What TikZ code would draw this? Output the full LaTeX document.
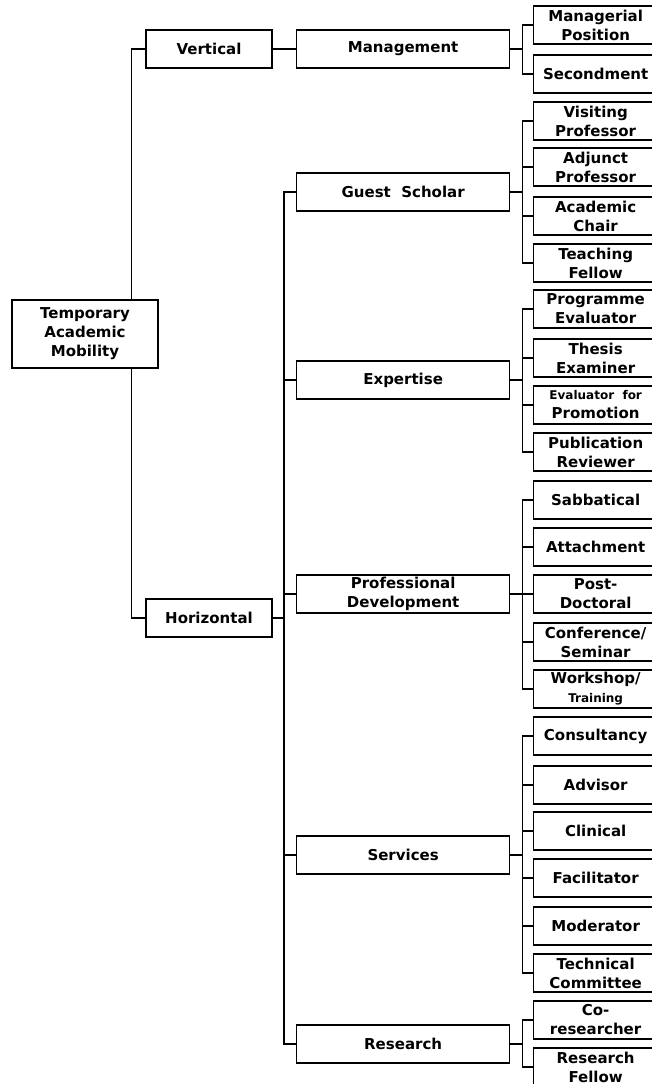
\documentclass[tikz,border=0pt]{standalone}
\usepackage{fontspec}
\setmainfont{DejaVu Sans}
\usetikzlibrary{positioning}
\usetikzlibrary{backgrounds}

\tikzset{
  box/.style={draw,line width=1.3pt,fill=white,inner xsep=1pt,inner ysep=0pt,align=center,
    font=\bfseries\fontsize{15}{19}\selectfont},
  midbox/.style={box,anchor=west,minimum width=213pt,minimum height=38pt},
  leafbox/.style={box,anchor=west,minimum width=124pt,minimum height=38pt},
  link/.style={line width=1.3pt}
}

\begin{document}
\begin{tikzpicture}[x=1pt,y=-1pt]
  \useasboundingbox (0,0) rectangle (652,1084);
  \node[box,minimum width=146pt,minimum height=68pt] (tam) at (85,334) {Temporary\\Academic\\Mobility};
  \node[box,minimum width=126pt,minimum height=38pt] (vert) at (209,49) {Vertical};
  \node[box,minimum width=126pt,minimum height=38pt] (horiz) at (209,618) {Horizontal};
  \node[midbox] (mgmt) at (296,49) {Management};
  \node[midbox] (gs) at (296,192) {Guest\ \ Scholar};
  \node[midbox] (exp) at (296,380) {Expertise};
  \node[midbox] (pdev) at (296,594) {Professional\\Development};
  \node[midbox] (serv) at (296,855) {Services};
  \node[midbox] (res) at (296,1044) {Research};
  \foreach \n/\y/\t in {mp/25/{Managerial\\Position},sec/74/{Secondment},
    vp/121/{Visiting\\Professor},ap/167/{Adjunct\\Professor},
    ac/216/{Academic\\Chair},tf/263/{Teaching\\Fellow},
    pe/309/{Programme\\Evaluator},te/358/{Thesis\\Examiner},
    ep/405/{\fontsize{12}{17}\selectfont Evaluator\ \ for\\Promotion},
    pr/452/{Publication\\Reviewer},sab/500/{Sabbatical},att/547/{Attachment},
    pd/594/{Post-\\Doctoral},cs/642/{Conference/\\Seminar},
    wt/689/{Workshop/\\{\fontsize{12}{14}\selectfont Training}},
    con/736/{Consultancy},adv/785/{Advisor},cli/831/{Clinical},
    fac/878/{Facilitator},mod/926/{Moderator},tc/973/{Technical\\Committee},
    cr/1020/{Co-\\researcher},rf/1067/{Research\\Fellow}}
    \node[leafbox] (\n) at (533,\y) {\t};

  \begin{scope}[on background layer]
    \draw[link] (vert.west) -- ++(-14,0) |- (horiz.west);
    \draw[link] (vert) -- (mgmt);
    \draw[link] (horiz.east) -- ++(12,0);
    \draw[link] (gs.west) -- ++(-12,0) |- (res.west);
    \foreach \m in {exp,pdev,serv}
      \draw[link] (\m.west) -- ++(-12,0);
    \foreach \p/\c in {mgmt/mp,mgmt/sec,gs/vp,gs/ap,gs/ac,gs/tf,
      exp/pe,exp/te,exp/ep,exp/pr,pdev/sab,pdev/att,pdev/pd,pdev/cs,pdev/wt,
      serv/con,serv/adv,serv/cli,serv/fac,serv/mod,serv/tc,res/cr,res/rf}
      \draw[link] (\p.east) -- ++(12,0) |- (\c.west);
  \end{scope}
\end{tikzpicture}
\end{document}
